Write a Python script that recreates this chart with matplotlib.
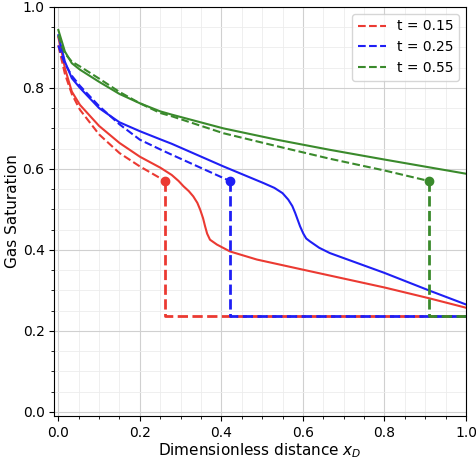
import numpy as np
import matplotlib.pyplot as plt
from matplotlib.ticker import MultipleLocator

# simulated profiles (solid)
x_sim_15 = [0.0, 0.008, 0.016, 0.033, 0.053, 0.10, 0.15, 0.20, 0.25, 0.278, 0.295, 0.307, 0.320, 0.331,
            0.341, 0.348, 0.355, 0.360, 0.365, 0.372, 0.389, 0.421, 0.487, 0.6, 0.8, 0.911, 1.0]
s_sim_15 = [0.925, 0.89, 0.849, 0.791, 0.758, 0.706, 0.664, 0.630, 0.603, 0.585, 0.570, 0.557, 0.545, 0.532,
            0.516, 0.499, 0.478, 0.458, 0.440, 0.425, 0.413, 0.396, 0.376, 0.351, 0.307, 0.280, 0.257]

x_sim_25 = [0.0, 0.016, 0.033, 0.053, 0.10, 0.15, 0.20, 0.25, 0.278, 0.405, 0.503, 0.530, 0.550, 0.564,
            0.574, 0.581, 0.593, 0.601, 0.608, 0.617, 0.640, 0.666, 0.8, 0.911, 1.0]
s_sim_25 = [0.93, 0.865, 0.824, 0.80, 0.75, 0.715, 0.693, 0.673, 0.662, 0.606, 0.565, 0.553, 0.540, 0.524,
            0.508, 0.491, 0.458, 0.440, 0.428, 0.421, 0.405, 0.392, 0.343, 0.299, 0.265]

x_sim_55 = [0.0, 0.016, 0.033, 0.053, 0.10, 0.15, 0.20, 0.25, 0.278, 0.405, 0.536, 0.666, 0.8, 1.0]
s_sim_55 = [0.943, 0.89, 0.861, 0.845, 0.815, 0.785, 0.762, 0.742, 0.734, 0.70, 0.672, 0.647, 0.623, 0.588]

# analytical profiles (dashed), rarefaction up to the shock front
x_bl_15 = [0.0, 0.008, 0.016, 0.033, 0.053, 0.10, 0.15, 0.20, 0.262]
s_bl_15 = [0.905, 0.87, 0.835, 0.785, 0.746, 0.685, 0.639, 0.606, 0.570]

x_bl_25 = [0.0, 0.008, 0.016, 0.033, 0.053, 0.10, 0.15, 0.20, 0.25, 0.278, 0.421]
s_bl_25 = [0.905, 0.88, 0.86, 0.83, 0.805, 0.755, 0.71, 0.672, 0.648, 0.635, 0.570]

x_bl_55 = [0.0, 0.008, 0.016, 0.033, 0.053, 0.10, 0.15, 0.20, 0.25, 0.278, 0.405, 0.536, 0.666, 0.8, 0.909]
s_bl_55 = [0.93, 0.905, 0.885, 0.865, 0.853, 0.823, 0.79, 0.762, 0.738, 0.73, 0.688, 0.656, 0.625, 0.596, 0.570]

times = ['0.15', '0.25', '0.55']
shock_x = [0.262, 0.421, 0.909]
shock_s = 0.570
s_init = 0.236

colors = ['#eb3a32', '#1f1ff5', '#3a8a2c']
sims = [(x_sim_15, s_sim_15), (x_sim_25, s_sim_25), (x_sim_55, s_sim_55)]
bls = [(x_bl_15, s_bl_15), (x_bl_25, s_bl_25), (x_bl_55, s_bl_55)]

fig = plt.figure(figsize=(4.76, 4.61), dpi=100)
ax = fig.add_axes([0.114, 0.098, 0.865, 0.887])

for (xs, ss), (xb, sb), xf, t, c in zip(sims, bls, shock_x, times, colors):
    ax.plot(xs, ss, color=c, lw=1.5)
    ax.plot(xb, sb, '--', color=c, lw=1.5, label='t = ' + t)
    # shock front and initial saturation
    ax.plot([xf, xf, 1.0], [shock_s, s_init, s_init], '--', color=c, lw=2)
    ax.plot([xf], [shock_s], 'o', color=c, ms=6)

ax.set_xlim(-0.01, 1.0)
ax.set_ylim(-0.01, 1.0)
ax.xaxis.set_major_locator(MultipleLocator(0.2))
ax.yaxis.set_major_locator(MultipleLocator(0.2))
ax.xaxis.set_minor_locator(MultipleLocator(0.05))
ax.yaxis.set_minor_locator(MultipleLocator(0.05))
ax.grid(which='major', color='#d0d0d0', lw=0.8)
ax.grid(which='minor', color='#ececec', lw=0.6)
ax.set_axisbelow(True)

ax.set_xlabel('Dimensionless distance $x_D$', fontsize=11, labelpad=1)
ax.set_ylabel('Gas Saturation', fontsize=11, labelpad=2)
ax.tick_params(labelsize=10)
ax.legend(loc='upper right', fontsize=10)

fig.savefig('out.png', dpi=100)
